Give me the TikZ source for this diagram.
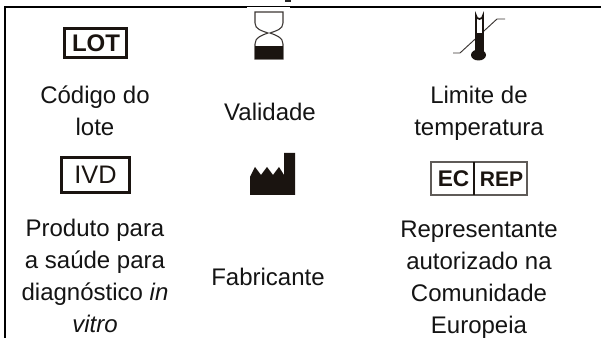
\documentclass[tikz,border=0pt]{standalone}
\usepackage{fontspec}
\setmainfont{Liberation Sans}
\definecolor{ink}{HTML}{1A1410}
\tikzset{
 lbl/.style={align=center,inner sep=0pt,font=\fontsize{18}{24}\selectfont,text=black!92},
 sym/.style={inner sep=0pt,text=ink,font=\bfseries\fontsize{17}{17}\selectfont},
 frame/.style={draw=black,line width=1.5pt}
}
\begin{document}
\begin{tikzpicture}[x=0.75pt,y=-0.75pt]
\useasboundingbox (0,0) rectangle (601,338);
\fill[white] (0,0) rectangle (601,338);
% table frame
\draw[frame] (5,338) -- (5,7) -- (247,7);
\draw[frame] (290,7) -- (601,7);
\draw[black,line width=0.6pt] (247,6.4) -- (290,6.4);
\fill[black!85] (285,0) rectangle (291,1.6);
% LOT
\draw[ink,line width=2.3pt] (64.5,28.5) rectangle (126.5,57.5);
\node[sym,font=\bfseries\fontsize{18}{18}\selectfont] (lot) at (96,43) {LOT};
% hourglass
\draw[ink!85,line width=0.8pt] (255,12) -- (283,12) -- (283,23) to[out=-90,in=20] (270,33) to[out=-20,in=90] (283,44) -- (283,59) -- (255,59) -- (255,44) to[out=90,in=200] (268,33) to[out=160,in=-90] (255,23) -- cycle;
\fill[ink] (255,46) rectangle (283,59);
% thermometer
\draw[ink!85,line width=0.7pt] (453,53) -- (460,53) -- (497,19) -- (505,19);
\draw[ink,line width=1.3pt,fill=white] (476,52) -- (476,15.5) arc (180:0:3.5) -- (483,52);
\fill[ink] (476,33) rectangle (483,52);
\fill[ink] (478.5,55) ellipse (7.5 and 5.5);
% IVD
\draw[ink,line width=1.7pt] (61.5,157.5) rectangle (129.5,192.5);
\node[sym,font=\fontsize{19}{19}\selectfont] (ivd) at (95.5,174.5) {IVD};
% factory
\fill[ink] (250,195) -- (250,177) -- (255,167) -- (261,175) -- (267,167) -- (273,175) -- (279,167) -- (284,175) -- (284,153) -- (295,153) -- (295,195) -- cycle;
% EC REP
\draw[ink!70,line width=1pt] (431,162) rectangle (527,195);
\draw[ink,line width=1.4pt] (474,162) -- (474,195);
\node[sym] (ec) at (453.5,179) {EC};
\node[sym,font=\bfseries\fontsize{15.8}{16}\selectfont] (rep) at (501.5,179) {REP};
% labels
\node[lbl] (a) at (95,111) {Código do\\lote};
\node[lbl] (b) at (270,112) {Validade};
\node[lbl] (c) at (479,113) {Limite de\\temperatura};
\node[lbl] (d) at (95,276) {Produto para\\a saúde para\\diagnóstico \textit{in}\\\textit{vitro}};
\node[lbl] (e) at (268,277) {Fabricante};
\node[lbl] (f) at (479,280) {Representante\\autorizado na\\Comunidade\\Europeia};
\end{tikzpicture}
\end{document}
